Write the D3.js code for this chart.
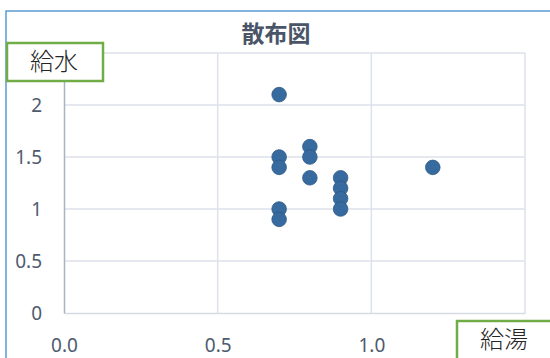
<!DOCTYPE html>
<html>
<head>
<meta charset="utf-8">
<script src="https://cdn.jsdelivr.net/npm/d3@7"></script>
<style>
  body { margin: 0; background: #fff; }
  svg { display: block; font-family: "Noto Sans CJK JP", "Open Sans", sans-serif; }
</style>
</head>
<body>
<div id="container"></div>
<script>
// data
const kyuto = [0.7, 0.7, 0.7, 0.7, 0.7, 0.8, 0.8, 0.8, 0.9, 0.9, 0.9, 0.9, 1.2]
const kyusui = [2.1, 1.5, 1.4, 1.0, 0.9, 1.6, 1.5, 1.3, 1.3, 1.2, 1.1, 1.0, 1.4]
const xGrid = [0, 0.5, 1.0, 1.5]
const xTickLabels = [0, 0.5, 1.0]   // the 1.5 label sits under the 給湯 box
const yTicks = [0, 0.5, 1, 1.5, 2, 2.5]
const title = "散布図"
const xName = "給湯"
const yName = "給水"

main()

function main() {
    const width = 550
    const height = 358
    const marginTop = 53
    const marginRight = 25
    const marginBottom = 45
    const marginLeft = 64

    const x = d3.scaleLinear()
        .domain([0, 1.5])
        .range([marginLeft, width - marginRight])

    const y = d3.scaleLinear()
        .domain([0, 2.5])
        .range([height - marginBottom, marginTop])

    const svg = d3.create("svg")
        .attr("width", width)
        .attr("height", height)

    // chart frame (runs off the right and bottom edges)
    svg.append("rect")
        .attr("x", 6)
        .attr("y", 11)
        .attr("width", width + 10)
        .attr("height", height + 10)
        .attr("fill", "#fff")
        .attr("stroke", "#5b9bd5")
        .attr("stroke-width", 1.5)

    // grid lines
    svg.append("g")
        .selectAll("line")
        .data(yTicks.filter(d => d > 0))
        .join("line")
        .attr("x1", x(0))
        .attr("x2", x(1.5))
        .attr("y1", d => y(d))
        .attr("y2", d => y(d))
        .attr("stroke", "#dde2ea")
        .attr("stroke-width", 1.5)

    svg.append("g")
        .selectAll("line")
        .data(xGrid.filter(d => d > 0))
        .join("line")
        .attr("x1", d => x(d))
        .attr("x2", d => x(d))
        .attr("y1", y(0))
        .attr("y2", y(2.5))
        .attr("stroke", "#dde2ea")
        .attr("stroke-width", 1.5)

    // bottom axis
    const xAxis = svg.append("g")
        .attr("transform", `translate(0,${y(0)})`)
        .call(d3.axisBottom(x).tickValues(xTickLabels).tickSize(0).tickFormat(d3.format(".1f")))
    xAxis.select(".domain").attr("stroke", "#d5dae3").attr("stroke-width", 1.5)
    xAxis.selectAll("text")
        .attr("dy", 0)
        .attr("y", 39)
        .attr("fill", "#4e5b6e")
        .style("font-size", "19px")
        .style("font-family", "'Noto Sans', sans-serif")

    // left axis
    const yAxis = svg.append("g")
        .attr("transform", `translate(${x(0)},0)`)
        .call(d3.axisLeft(y).tickValues(yTicks.filter(d => d < 2.5)).tickSize(0).tickFormat(d => d))
    yAxis.select(".domain").attr("stroke", "#a8b4c6").attr("stroke-width", 1.5)
    yAxis.selectAll("text")
        .attr("x", -22)
        .attr("dy", "0.35em")
        .attr("fill", "#4e5b6e")
        .style("font-size", "19px")
        .style("font-family", "'Noto Sans', sans-serif")

    // points
    svg.append("g")
        .selectAll("circle")
        .data(kyuto.map((d, i) => ({x: d, y: kyusui[i]})))
        .join("circle")
        .attr("cx", d => x(d.x))
        .attr("cy", d => y(d.y))
        .attr("r", 7.3)
        .attr("fill", "#376a9e")
        .attr("stroke", "#2e5a87")
        .attr("stroke-width", 0.8)

    // title
    svg.append("text")
        .attr("x", 276)
        .attr("y", 42)
        .attr("text-anchor", "middle")
        .attr("fill", "#4a5568")
        .style("font-size", "23px")
        .style("font-weight", "bold")
        .text(title)

    // axis name boxes
    svg.append("rect")
        .attr("x", 7).attr("y", 43)
        .attr("width", 96).attr("height", 38)
        .attr("fill", "#fff")
        .attr("stroke", "#70ad47")
        .attr("stroke-width", 2.5)
    svg.append("text")
        .attr("x", 54).attr("y", 70)
        .attr("text-anchor", "middle")
        .attr("fill", "#262626")
        .style("font-size", "24px")
        .style("font-weight", 300)
        .text(yName)

    svg.append("rect")
        .attr("x", 457).attr("y", 321)
        .attr("width", 110).attr("height", 50)
        .attr("fill", "#fff")
        .attr("stroke", "#70ad47")
        .attr("stroke-width", 2.5)
    svg.append("text")
        .attr("x", 504).attr("y", 348)
        .attr("text-anchor", "middle")
        .attr("fill", "#262626")
        .style("font-size", "24px")
        .style("font-weight", 300)
        .text(xName)

    container.append(svg.node())
}
</script>
</body>
</html>
